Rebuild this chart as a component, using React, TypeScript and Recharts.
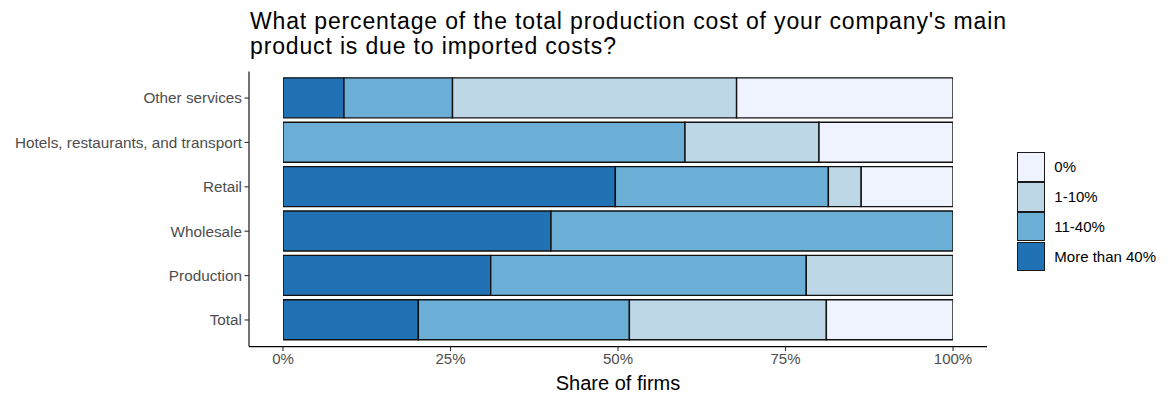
import React from 'react';
import { BarChart, Bar, XAxis, YAxis } from 'recharts';

const categories = [
  'Other services',
  'Hotels, restaurants, and transport',
  'Retail',
  'Wholesale',
  'Production',
  'Total',
];
const moreThan40 = [9.1, 0, 49.6, 40.0, 31.0, 20.2];
const p11to40 = [16.2, 60.0, 31.8, 60.0, 47.1, 31.5];
const p1to10 = [42.4, 20.0, 4.9, 0, 21.9, 29.4];
const p0 = [32.3, 20.0, 13.7, 0, 0, 18.9];

const xTicks = [0, 25, 50, 75, 100];

const seriesKeys = ['more40', 'p11_40', 'p1_10', 'p0'];
const seriesLabels = ['More than 40%', '11-40%', '1-10%', '0%'];
const seriesColors = ['#2171b5', '#6baed6', '#bdd7e7', '#eff3ff'];

const data = categories.map((c, i) => ({
  category: c,
  more40: moreThan40[i],
  p11_40: p11to40[i],
  p1_10: p1to10[i],
  p0: p0[i],
}));

const FONT = '"Liberation Sans", Arial, sans-serif';

function LegendBox() {
  const order = [3, 2, 1, 0];
  return (
    <div style={{ position: 'absolute', left: 1017, top: 152, fontFamily: FONT }}>
      {order.map((i) => (
        <div key={i} style={{ display: 'flex', alignItems: 'center', height: 29.85 }}>
          <div
            style={{
              width: 26.3,
              height: 27.7,
              background: seriesColors[i],
              border: '1.1px solid #1a1a1a',
              boxSizing: 'content-box',
            }}
          />
          <span style={{ marginLeft: 9, fontSize: 15, color: '#000' }}>{seriesLabels[i]}</span>
        </div>
      ))}
    </div>
  );
}

export default function App() {
  return (
    <div style={{ position: 'absolute', left: 0, top: 0, width: 1169, height: 394, background: '#fff' }}>
      <div
        style={{
          position: 'absolute',
          left: 250,
          top: 8.5,
          fontFamily: FONT,
          fontSize: 23,
          letterSpacing: 0.85,
          lineHeight: '25px',
          color: '#000',
          whiteSpace: 'nowrap',
        }}
      >
        What percentage of the total production cost of your company's main
        <br />
        product is due to imported costs?
      </div>
      <BarChart
        width={1169}
        height={394}
        data={data}
        layout="vertical"
        margin={{ top: 71.4, right: 182, bottom: 0, left: 0 }}
        barSize={40}
        style={{ fontFamily: FONT }}
      >
        <XAxis
          type="number"
          domain={[0, 100]}
          ticks={xTicks}
          tickFormatter={(v) => `${v}%`}
          padding={{ left: 34, right: 34 }}
          height={47.4}
          axisLine={{ stroke: '#000', strokeWidth: 1.1 }}
          tickLine={{ stroke: '#333', strokeWidth: 1.1 }}
          tickSize={4.5}
          tickMargin={2}
          tick={{ fill: '#4d4d4d', fontSize: 15, fontFamily: FONT }}
          allowDataOverflow
          label={{
            value: 'Share of firms',
            position: 'insideBottom',
            offset: 4,
            fill: '#000',
            fontSize: 20,
            fontFamily: FONT,
          }}
        />
        <YAxis
          type="category"
          dataKey="category"
          width={249}
          padding={{ top: 4.44, bottom: 4.44 }}
          axisLine={{ stroke: '#000', strokeWidth: 1.1 }}
          tickLine={{ stroke: '#333', strokeWidth: 1.1 }}
          tickSize={4.5}
          tickMargin={2.5}
          tick={{ fill: '#4d4d4d', fontSize: 15.3, fontFamily: FONT }}
          interval={0}
        />
        {seriesKeys.map((k, i) => (
          <Bar
            key={k}
            dataKey={k}
            stackId="a"
            fill={seriesColors[i]}
            stroke="#111"
            strokeWidth={1.4}
            name={seriesLabels[i]}
            isAnimationActive={false}
          />
        ))}
      </BarChart>
      <LegendBox />
    </div>
  );
}
